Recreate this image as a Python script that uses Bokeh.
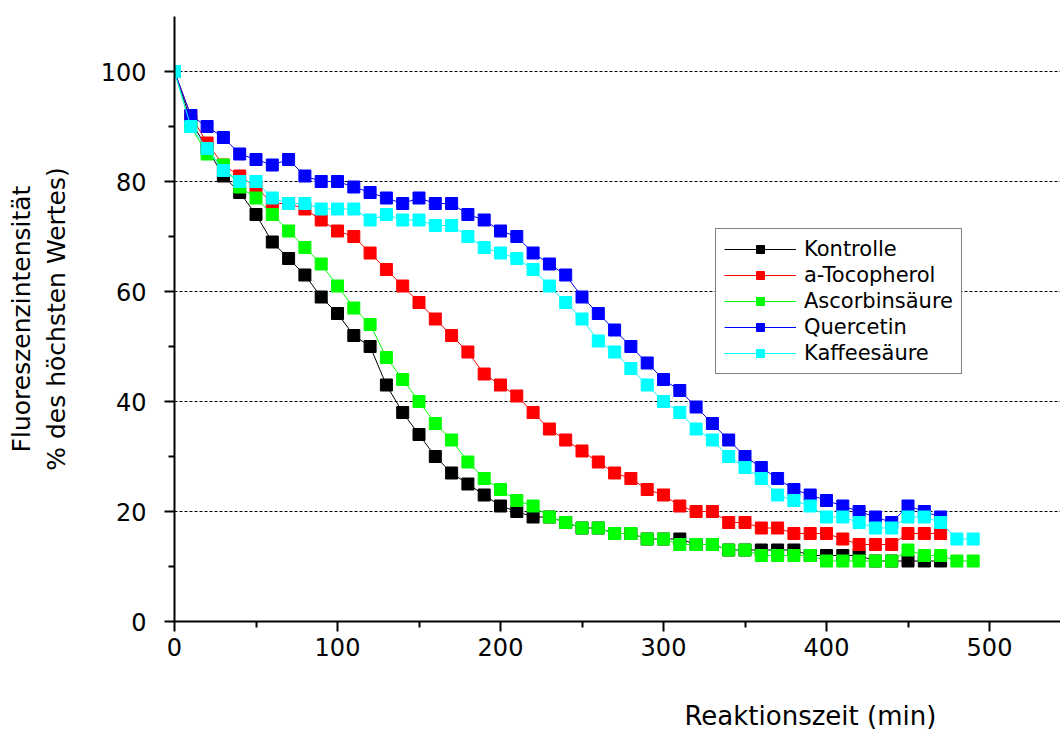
from bokeh.plotting import figure
from bokeh.models import Range1d, FixedTicker, Legend, LinearAxis, Label
from bokeh.layouts import column
from bokeh.embed import file_html
from bokeh.resources import INLINE

# time axis (min)
time_long = [t * 10 for t in range(50)]   # 0..490
time_short = [t * 10 for t in range(48)]  # 0..470

kontrolle = [100, 91, 86, 81, 78, 74, 69, 66, 63, 59, 56, 52, 50, 43, 38, 34, 30, 27, 25, 23,
             21, 20, 19, 19, 18, 17, 17, 16, 16, 15, 15, 15, 14, 14, 13, 13, 13, 13, 13, 12,
             12, 12, 12, 11, 11, 11, 11, 11]
tocopherol = [100, 92, 87, 83, 81, 79, 76, 76, 75, 73, 71, 70, 67, 64, 61, 58, 55, 52, 49, 45,
              43, 41, 38, 35, 33, 31, 29, 27, 26, 24, 23, 21, 20, 20, 18, 18, 17, 17, 16, 16,
              16, 15, 14, 14, 14, 16, 16, 16]
ascorbin = [100, 90, 85, 83, 79, 77, 74, 71, 68, 65, 61, 57, 54, 48, 44, 40, 36, 33, 29, 26,
            24, 22, 21, 19, 18, 17, 17, 16, 16, 15, 15, 14, 14, 14, 13, 13, 12, 12, 12, 12,
            11, 11, 11, 11, 11, 13, 12, 12, 11, 11]
quercetin = [100, 92, 90, 88, 85, 84, 83, 84, 81, 80, 80, 79, 78, 77, 76, 77, 76, 76, 74, 73,
             71, 70, 67, 65, 63, 59, 56, 53, 50, 47, 44, 42, 39, 36, 33, 30, 28, 26, 24, 23,
             22, 21, 20, 19, 18, 21, 20, 19]
kaffee = [100, 90, 86, 82, 80, 80, 77, 76, 76, 75, 75, 75, 73, 74, 73, 73, 72, 72, 70, 68,
          67, 66, 64, 61, 58, 55, 51, 49, 46, 43, 40, 38, 35, 33, 30, 28, 26, 23, 22, 21,
          19, 19, 18, 17, 17, 19, 19, 18, 15, 15]

series_names = ["Kontrolle", "a-Tocopherol", "Ascorbinsäure", "Quercetin", "Kaffeesäure"]
series_colors = ["#000000", "#FF0000", "#00FF00", "#0000FF", "#00FFFF"]
series_x = [time_short, time_short, time_long, time_short, time_long]
series_y = [kontrolle, tocopherol, ascorbin, quercetin, kaffee]

y_ticks = [0, 20, 40, 60, 80, 100]
y_minor = [10, 30, 50, 70, 90]
x_ticks = [0, 100, 200, 300, 400, 500]
x_minor = [50, 150, 250, 350, 450]

x_title = "Reaktionszeit (min)"
y_title_1 = "Fluoreszenzintensität"
y_title_2 = "% des höchsten Wertes)"

FONT = "DejaVu Sans"
X_END = 886 / 1.63          # frame width / px per minute
X_START_CANVAS = -174 / 1.63

p = figure(width=1060, height=690, output_backend="svg", toolbar_location=None,
           x_range=Range1d(0, X_END), y_range=Range1d(0, 110),
           min_border_left=174, min_border_right=0, min_border_top=16, min_border_bottom=69)
p.outline_line_color = None
p.background_fill_color = "white"
p.border_fill_color = "white"

for ax in (p.xaxis[0], p.yaxis[0]):
    ax.axis_line_width = 2
    ax.axis_line_color = "black"
    ax.major_tick_line_width = 2
    ax.minor_tick_line_width = 2
    ax.major_tick_line_color = "black"
    ax.minor_tick_line_color = "black"
    ax.major_tick_in = 0
    ax.minor_tick_in = 0
    ax.major_label_text_font = FONT
    ax.major_label_text_font_size = "24px"
    ax.major_label_text_color = "black"

p.yaxis[0].ticker = FixedTicker(ticks=y_ticks, minor_ticks=y_minor)
p.xaxis[0].ticker = FixedTicker(ticks=x_ticks, minor_ticks=x_minor)
p.yaxis[0].major_tick_out = 10
p.yaxis[0].minor_tick_out = 6
p.yaxis[0].major_label_standoff = 18
p.xaxis[0].major_tick_out = 10
p.xaxis[0].minor_tick_out = 6
p.xaxis[0].major_label_standoff = 6

p.xgrid.grid_line_color = None
p.ygrid.ticker = FixedTicker(ticks=y_ticks)
p.ygrid.grid_line_color = "black"
p.ygrid.grid_line_width = 1
p.ygrid.grid_line_dash = "3 2"


def title_axis(label, bounds, standoff, size):
    ax = LinearAxis(ticker=FixedTicker(ticks=[]), bounds=bounds, axis_label=label)
    ax.axis_line_color = None
    ax.major_tick_line_color = None
    ax.minor_tick_line_color = None
    ax.major_tick_out = 0
    ax.minor_tick_out = 0
    ax.axis_label_standoff = standoff
    ax.axis_label_text_font = FONT
    ax.axis_label_text_font_size = size
    ax.axis_label_text_font_style = "normal"
    ax.axis_label_text_color = "black"
    return ax


p.add_layout(title_axis(y_title_2, (0, 107.6), 27, "25px"), "left")
p.add_layout(title_axis(y_title_1, (0, 107.6), 3, "25px"), "left")

items = []
for name, col, xs, ys in zip(series_names, series_colors, series_x, series_y):
    r1 = p.line(xs, ys, line_color=col, line_width=1)
    r2 = p.scatter(xs, ys, marker="square", size=12, fill_color=col, line_color=col)
    items.append((name, [r1, r2]))

legend = Legend(items=items, location=(541, 247))
legend.border_line_color = "black"
legend.border_line_width = 1.5
legend.background_fill_color = "white"
legend.background_fill_alpha = 1
legend.padding = 8
legend.margin = 0
legend.spacing = 2
legend.glyph_width = 72
legend.glyph_height = 20
legend.label_height = 20
legend.label_standoff = 8
legend.label_text_font = FONT
legend.label_text_font_size = "21px"
legend.label_text_color = "black"
p.add_layout(legend, "center")

# strip below the chart carrying the x-axis title
p2 = figure(width=1060, height=41, output_backend="svg", toolbar_location=None,
            x_range=Range1d(X_START_CANVAS, X_END), y_range=Range1d(0, 1),
            min_border=0, min_border_left=0, min_border_right=0,
            min_border_top=0, min_border_bottom=0)
p2.axis.visible = False
p2.grid.grid_line_color = None
p2.outline_line_color = None
p2.background_fill_color = "white"
p2.border_fill_color = "white"
p2.add_layout(Label(x=360.0, y=0.37, text=x_title, text_font=FONT, text_font_size="26px",
                    text_align="center", text_baseline="middle", text_color="black"))

layout = column(p, p2, spacing=0)
open("out.html", "w").write(file_html(layout, INLINE))
